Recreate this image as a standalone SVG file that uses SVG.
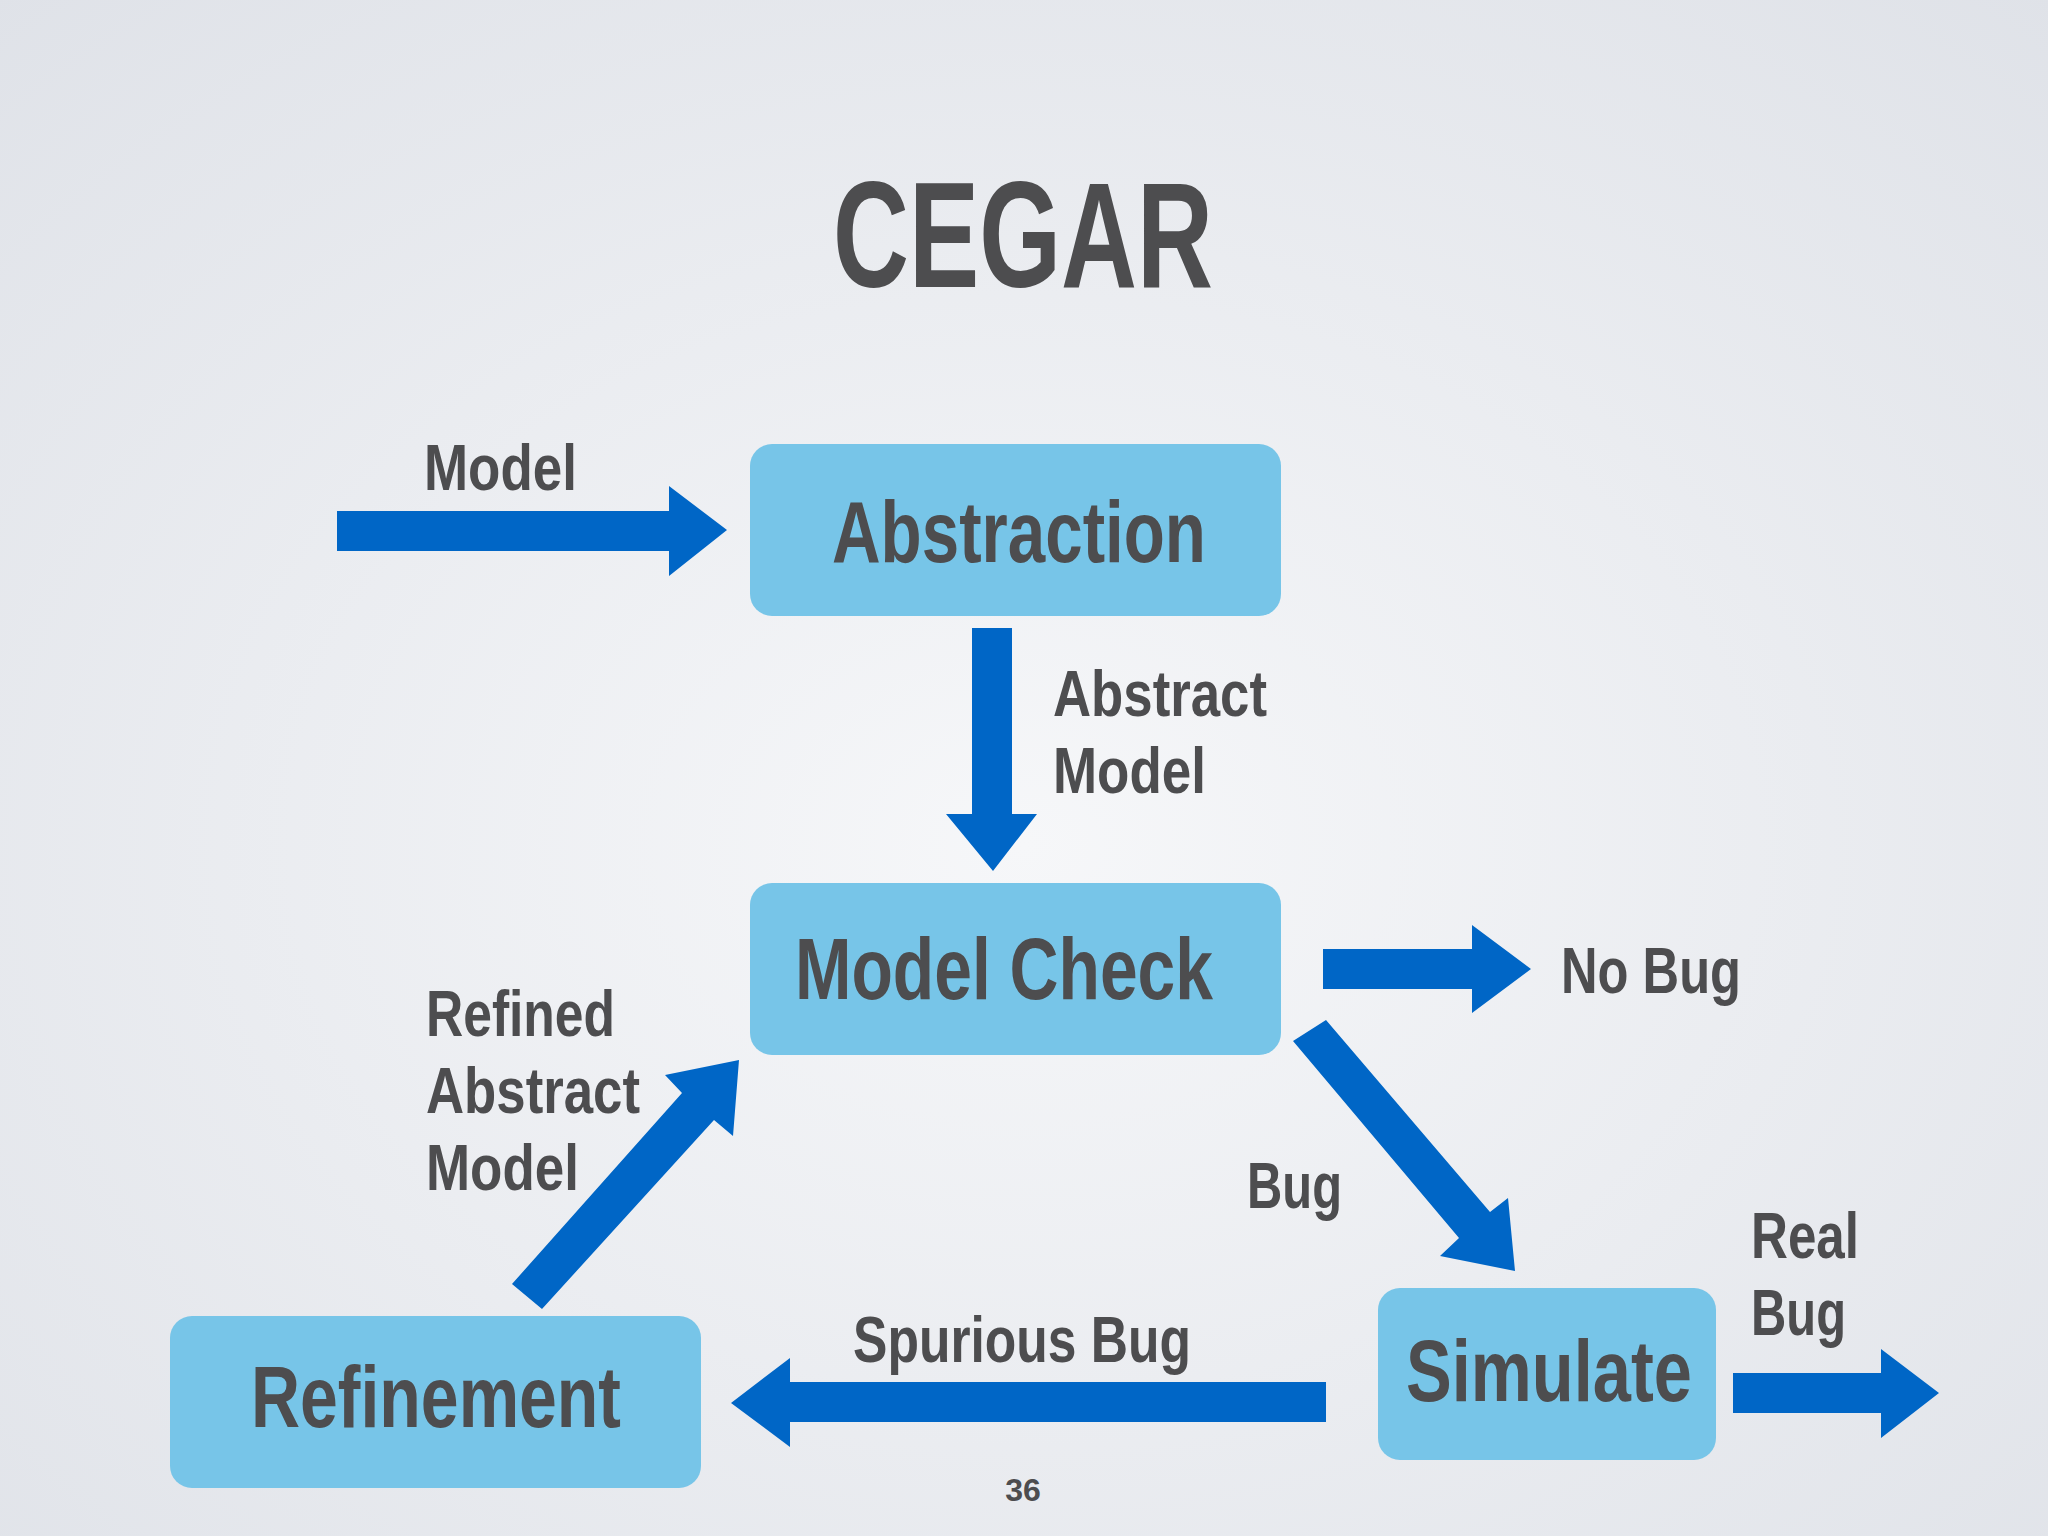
<svg xmlns="http://www.w3.org/2000/svg" width="2048" height="1536" viewBox="0 0 2048 1536">
<defs>
<radialGradient id="bg" cx="0.5" cy="0.55" r="0.75">
<stop offset="0" stop-color="#f6f7f9"/><stop offset="1" stop-color="#dfe2e8"/>
</radialGradient>
<style>
.box{fill:#77C5E8}
.arr{fill:#0066C6}
text{font-family:"Liberation Sans",Arial,sans-serif;font-weight:bold;fill:#4D4D4F}
.lbl{font-size:64px}
.bt{font-size:88px;text-anchor:middle}
</style>
</defs>
<rect width="2048" height="1536" fill="url(#bg)"/>
<text x="1023" y="287" font-size="150" text-anchor="middle" textLength="380" lengthAdjust="spacingAndGlyphs">CEGAR</text>
<g id="abstraction"><rect class="box" x="750" y="444" width="531" height="172" rx="22"/><text class="bt" x="1019" y="562" textLength="374" lengthAdjust="spacingAndGlyphs">Abstraction</text></g>
<g id="modelcheck"><rect class="box" x="750" y="883" width="531" height="172" rx="22"/><text class="bt" x="1004" y="999" textLength="418" lengthAdjust="spacingAndGlyphs">Model Check</text></g>
<g id="refinement"><rect class="box" x="170" y="1316" width="531" height="172" rx="22"/><text class="bt" x="436" y="1427" textLength="370" lengthAdjust="spacingAndGlyphs">Refinement</text></g>
<g id="simulate"><rect class="box" x="1378" y="1288" width="338" height="172" rx="22"/><text class="bt" x="1549" y="1401" textLength="286" lengthAdjust="spacingAndGlyphs">Simulate</text></g>
<g id="connectors">
<polygon class="arr" points="337,511 669,511 669,486 727,530 669,576 669,551 337,551"/>
<polygon class="arr" points="972,628 1012,628 1012,814 1037,814 993,871 946,814 972,814"/>
<polygon class="arr" points="1323,949 1472,949 1472,925 1531,969 1472,1013 1472,989 1323,989"/>
<polygon class="arr" points="1326,1382 790,1382 790,1358 731,1403 790,1447 790,1422 1326,1422"/>
<polygon class="arr" points="1733,1373 1881,1373 1881,1349 1939,1393 1881,1438 1881,1413 1733,1413"/>
<polygon class="arr" points="1293,1041 1326,1020 1490,1212 1508,1198 1515,1271 1440,1256 1459,1238"/>
<polygon class="arr" points="512,1284 682,1093 665,1075 739,1060 733,1136 714,1120 542,1309"/>
</g>
<g id="labels">
<text class="lbl" x="424" y="490" textLength="153" lengthAdjust="spacingAndGlyphs">Model</text>
<text class="lbl" x="1053" y="716" textLength="214" lengthAdjust="spacingAndGlyphs">Abstract</text>
<text class="lbl" x="1053" y="793" textLength="153" lengthAdjust="spacingAndGlyphs">Model</text>
<text class="lbl" x="1561" y="993" textLength="180" lengthAdjust="spacingAndGlyphs">No Bug</text>
<text class="lbl" x="426" y="1036" textLength="189" lengthAdjust="spacingAndGlyphs">Refined</text>
<text class="lbl" x="426" y="1113" textLength="214" lengthAdjust="spacingAndGlyphs">Abstract</text>
<text class="lbl" x="426" y="1190" textLength="153" lengthAdjust="spacingAndGlyphs">Model</text>
<text class="lbl" x="1247" y="1208" textLength="95" lengthAdjust="spacingAndGlyphs">Bug</text>
<text class="lbl" x="1751" y="1258" textLength="108" lengthAdjust="spacingAndGlyphs">Real</text>
<text class="lbl" x="1751" y="1335" textLength="95" lengthAdjust="spacingAndGlyphs">Bug</text>
<text class="lbl" x="853" y="1362" textLength="338" lengthAdjust="spacingAndGlyphs">Spurious Bug</text>
<text x="1023" y="1501" font-size="32" text-anchor="middle">36</text>
</g>
</svg>
